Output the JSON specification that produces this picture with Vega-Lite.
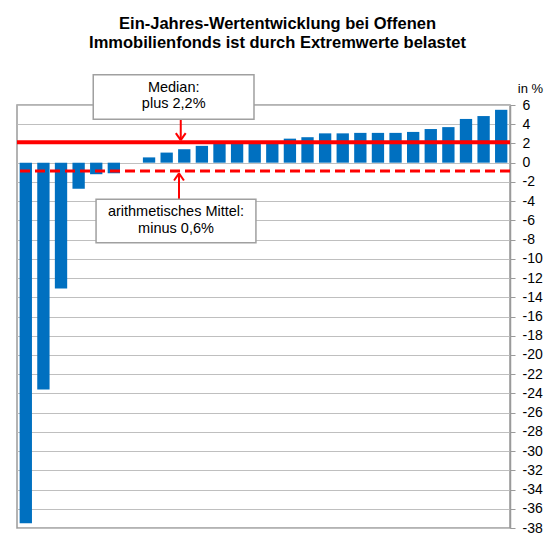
{
  "$schema": "https://vega.github.io/schema/vega-lite/v6.json",
  "width": 493,
  "height": 423,
  "autosize": {"type": "none"},
  "padding": {"left": 17, "top": 105, "right": 50, "bottom": 8},
  "background": "white",
  "title": {
    "text": ["Ein-Jahres-Wertentwicklung bei Offenen", "Immobilienfonds ist durch Extremwerte belastet"],
    "font": "Liberation Sans",
    "fontSize": 16.5,
    "fontWeight": "bold",
    "color": "black",
    "anchor": "middle",
    "dx": 14,
    "offset": 22,
    "lineHeight": 19
  },
  "config": {
    "font": "Liberation Sans",
    "view": {"stroke": "#9a9a9a", "strokeWidth": 1.5}
  },
  "data": {
    "values": [
      {"fund": 1, "value": -37.5},
      {"fund": 2, "value": -23.6},
      {"fund": 3, "value": -13.1},
      {"fund": 4, "value": -2.7},
      {"fund": 5, "value": -1.2},
      {"fund": 6, "value": -1.1},
      {"fund": 7, "value": 0},
      {"fund": 8, "value": 0.55},
      {"fund": 9, "value": 1.05},
      {"fund": 10, "value": 1.4},
      {"fund": 11, "value": 1.75},
      {"fund": 12, "value": 2.0},
      {"fund": 13, "value": 2.0},
      {"fund": 14, "value": 2.0},
      {"fund": 15, "value": 2.0},
      {"fund": 16, "value": 2.5},
      {"fund": 17, "value": 2.65},
      {"fund": 18, "value": 3.05},
      {"fund": 19, "value": 3.05},
      {"fund": 20, "value": 3.1},
      {"fund": 21, "value": 3.1},
      {"fund": 22, "value": 3.1},
      {"fund": 23, "value": 3.2},
      {"fund": 24, "value": 3.5},
      {"fund": 25, "value": 3.7},
      {"fund": 26, "value": 4.55},
      {"fund": 27, "value": 4.85},
      {"fund": 28, "value": 5.5}
    ]
  },
  "layer": [
    {
      "mark": {"type": "bar", "color": "#0070C0"},
      "encoding": {
        "x": {"field": "fund", "type": "ordinal", "axis": null, "scale": {"paddingInner": 0.3, "paddingOuter": 0.15}},
        "y": {
          "field": "value",
          "type": "quantitative",
          "scale": {"domain": [-38, 6], "nice": false, "zero": false},
          "axis": {
            "orient": "right",
            "values": [-38, -36, -34, -32, -30, -28, -26, -24, -22, -20, -18, -16, -14, -12, -10, -8, -6, -4, -2, 0, 2, 4, 6],
            "tickCount": 50,
            "labelExpr": "'' + datum.value",
            "labelOverlap": false,
            "labelBound": false,
            "grid": true,
            "gridColor": "#bfbfbf",
            "gridWidth": 1.2,
            "domainColor": "#9a9a9a",
            "domainWidth": 1.5,
            "tickColor": "#9a9a9a",
            "tickSize": 5,
            "labelFontSize": 14,
            "labelColor": "black",
            "labelPadding": 7,
            "labelFont": "Liberation Sans",
            "title": "in %",
            "titleAngle": 0,
            "titleFontSize": 13,
            "titleFontWeight": "normal",
            "titleColor": "black",
            "titleFont": "Liberation Sans",
            "titleX": 20,
            "titleY": -13,
            "titleAlign": "center",
            "titleBaseline": "alphabetic"
          }
        }
      }
    },
    {
      "data": {"values": [{}]},
      "mark": {"type": "rule", "color": "#ff0000", "strokeWidth": 4},
      "encoding": {"y": {"datum": 2.12}}
    },
    {
      "data": {"values": [{}]},
      "mark": {"type": "rule", "color": "#ff0000", "strokeWidth": 3, "strokeDash": [10, 5]},
      "encoding": {"y": {"datum": -0.86}}
    },
    {
      "data": {"values": [{}]},
      "mark": {"type": "rule", "color": "#ff0000", "strokeWidth": 2},
      "encoding": {
        "x": {"datum": 9.3, "type": "quantitative", "scale": {"domain": [0, 28], "nice": false, "zero": false}, "axis": null},
        "y": {"datum": 4.51},
        "y2": {"datum": 2.35}
      }
    },
    {
      "data": {"values": [{}]},
      "mark": {"type": "rule", "color": "#ff0000", "strokeWidth": 2},
      "encoding": {
        "x": {"datum": 9.02, "type": "quantitative", "scale": {"domain": [0, 28], "nice": false, "zero": false}, "axis": null},
        "x2": {"datum": 9.3},
        "y": {"datum": 3.08},
        "y2": {"datum": 2.35}
      }
    },
    {
      "data": {"values": [{}]},
      "mark": {"type": "rule", "color": "#ff0000", "strokeWidth": 2},
      "encoding": {
        "x": {"datum": 9.58, "type": "quantitative", "scale": {"domain": [0, 28], "nice": false, "zero": false}, "axis": null},
        "x2": {"datum": 9.3},
        "y": {"datum": 3.08},
        "y2": {"datum": 2.35}
      }
    },
    {
      "data": {"values": [{}]},
      "mark": {"type": "rule", "color": "#ff0000", "strokeWidth": 2},
      "encoding": {
        "x": {"datum": 9.2, "type": "quantitative", "scale": {"domain": [0, 28], "nice": false, "zero": false}, "axis": null},
        "y": {"datum": -3.81},
        "y2": {"datum": -1.12}
      }
    },
    {
      "data": {"values": [{}]},
      "mark": {"type": "rule", "color": "#ff0000", "strokeWidth": 2},
      "encoding": {
        "x": {"datum": 8.92, "type": "quantitative", "scale": {"domain": [0, 28], "nice": false, "zero": false}, "axis": null},
        "x2": {"datum": 9.2},
        "y": {"datum": -1.85},
        "y2": {"datum": -1.12}
      }
    },
    {
      "data": {"values": [{}]},
      "mark": {"type": "rule", "color": "#ff0000", "strokeWidth": 2},
      "encoding": {
        "x": {"datum": 9.48, "type": "quantitative", "scale": {"domain": [0, 28], "nice": false, "zero": false}, "axis": null},
        "x2": {"datum": 9.2},
        "y": {"datum": -1.85},
        "y2": {"datum": -1.12}
      }
    },
    {
      "data": {"values": [{}]},
      "mark": {"type": "rect", "fill": "white", "stroke": "#a0a0a0", "strokeWidth": 1.5},
      "encoding": {
        "x": {"datum": 4.33, "type": "quantitative", "scale": {"domain": [0, 28], "nice": false, "zero": false}, "axis": null},
        "x2": {"datum": 13.46},
        "y": {"datum": 9.15},
        "y2": {"datum": 4.51}
      }
    },
    {
      "data": {"values": [{}]},
      "mark": {"type": "rect", "fill": "white", "stroke": "#a0a0a0", "strokeWidth": 1.5},
      "encoding": {
        "x": {"datum": 4.49, "type": "quantitative", "scale": {"domain": [0, 28], "nice": false, "zero": false}, "axis": null},
        "x2": {"datum": 13.57},
        "y": {"datum": -3.81},
        "y2": {"datum": -8.32}
      }
    },
    {
      "data": {"values": [{}]},
      "mark": {"type": "text", "fontSize": 14.5, "font": "Liberation Sans", "color": "black", "align": "center", "baseline": "middle", "lineHeight": 16},
      "encoding": {
        "x": {"datum": 8.9, "type": "quantitative", "scale": {"domain": [0, 28], "nice": false, "zero": false}, "axis": null},
        "y": {"datum": 7.77},
        "text": {"value": ["Median:", "plus 2,2%"]}
      }
    },
    {
      "data": {"values": [{}]},
      "mark": {"type": "text", "fontSize": 14.5, "font": "Liberation Sans", "color": "black", "align": "center", "baseline": "middle", "lineHeight": 17},
      "encoding": {
        "x": {"datum": 9.03, "type": "quantitative", "scale": {"domain": [0, 28], "nice": false, "zero": false}, "axis": null},
        "y": {"datum": -5.13},
        "text": {"value": ["arithmetisches Mittel:", "minus 0,6%"]}
      }
    }
  ],
  "resolve": {"scale": {"x": "independent"}}
}
